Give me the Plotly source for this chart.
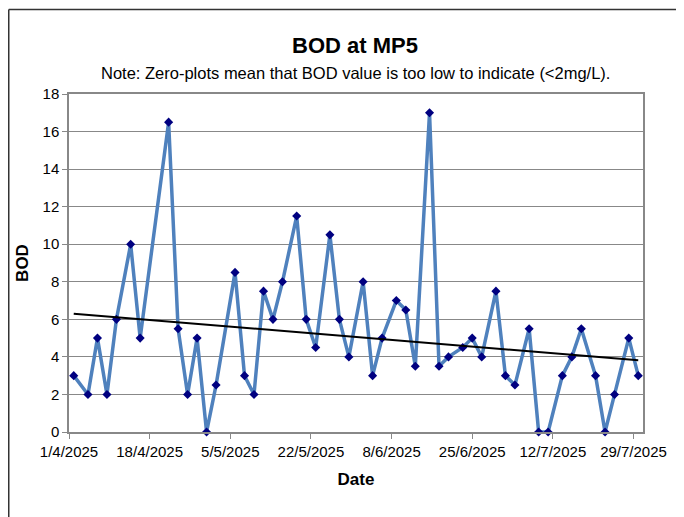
import numpy as np
import pandas as pd
import plotly.graph_objects as go

dates = ["2025-04-02", "2025-04-05", "2025-04-07", "2025-04-09", "2025-04-11", "2025-04-14",
         "2025-04-16", "2025-04-22", "2025-04-24", "2025-04-26", "2025-04-28", "2025-04-30",
         "2025-05-02", "2025-05-06", "2025-05-08", "2025-05-10", "2025-05-12", "2025-05-14",
         "2025-05-16", "2025-05-19", "2025-05-21", "2025-05-23", "2025-05-26", "2025-05-28",
         "2025-05-30", "2025-06-02", "2025-06-04", "2025-06-06", "2025-06-09", "2025-06-11",
         "2025-06-13", "2025-06-16", "2025-06-18", "2025-06-20", "2025-06-23", "2025-06-25",
         "2025-06-27", "2025-06-30", "2025-07-02", "2025-07-04", "2025-07-07", "2025-07-09",
         "2025-07-11", "2025-07-14", "2025-07-16", "2025-07-18", "2025-07-21", "2025-07-23",
         "2025-07-25", "2025-07-28", "2025-07-30"]
bod = [3, 2, 5, 2, 6, 10,
       5, 16.5, 5.5, 2, 5, 0,
       2.5, 8.5, 3, 2, 7.5, 6,
       8, 11.5, 6, 4.5, 10.5, 6,
       4, 8, 3, 5, 7, 6.5,
       3.5, 17, 3.5, 4, 4.5, 5,
       4, 7.5, 3, 2.5, 5.5, 0,
       0, 3, 4, 5.5, 3, 0,
       2, 5, 3]

tick_dates = ["2025-04-01", "2025-04-18", "2025-05-05", "2025-05-22",
              "2025-06-08", "2025-06-25", "2025-07-12", "2025-07-29"]
tick_labels = ["1/4/2025", "18/4/2025", "5/5/2025", "22/5/2025",
               "8/6/2025", "25/6/2025", "12/7/2025", "29/7/2025"]

# linear trendline (least squares over the data)
dt = pd.to_datetime(dates)
days = np.array([(d - dt[0]).days for d in dt], dtype=float)
slope, intercept = np.polyfit(days, np.array(bod, dtype=float), 1)
trend_x = [dates[0], dates[-1]]
trend_y = [intercept, intercept + slope * days[-1]]

font_family = "Liberation Sans, Arial, sans-serif"

fig = go.Figure()
fig.add_trace(go.Scatter(
    x=dates, y=bod, mode="lines+markers",
    line=dict(color="#4F81BD", width=3.5),
    marker=dict(symbol="diamond", size=7, color="#000080"),
    showlegend=False, cliponaxis=False,
))
fig.add_trace(go.Scatter(
    x=trend_x, y=trend_y, mode="lines",
    line=dict(color="black", width=2),
    showlegend=False,
))

# page has an 8px body margin; figure sized to fill the remaining window
OFF = 8
W, H = 684 - OFF, 517 - OFF
L = 69 - OFF
T = 94 - OFF
R = 684 - 643
B = 517 - 432
pw, ph = W - L - R, H - T - B

def px_x(p):
    return (p - OFF - L) / pw

def px_y(p):
    return (H - B - (p - OFF)) / ph

fig.update_layout(
    width=W, height=H,
    margin=dict(l=L, r=R, t=T, b=B),
    paper_bgcolor="white", plot_bgcolor="white",
    font=dict(family=font_family, size=15, color="black"),
    xaxis=dict(
        type="date", range=["2025-04-01", "2025-07-31"],
        tickvals=tick_dates, ticktext=tick_labels,
        ticks="outside", ticklen=5, tickcolor="#888888",
        showgrid=False, showline=True, linecolor="#888888", linewidth=1.5,
        mirror=True, zeroline=False,
        title=dict(text="<b>Date</b>", font=dict(size=17), standoff=14),
        tickfont=dict(size=15),
    ),
    yaxis=dict(
        range=[0, 18], tickvals=list(range(0, 19, 2)),
        ticks="outside", ticklen=5, tickcolor="#888888",
        showgrid=True, gridcolor="#888888", gridwidth=1.2,
        showline=True, linecolor="#888888", linewidth=1.5,
        mirror=True, zeroline=False,
        title=dict(text="<b>BOD</b>", font=dict(size=17), standoff=10),
        tickfont=dict(size=15),
    ),
    annotations=[
        dict(text="<b>BOD at MP5</b>", xref="paper", yref="paper",
             x=px_x(355), y=px_y(45), xanchor="center", yanchor="middle",
             showarrow=False, font=dict(size=22, color="black")),
        dict(text="Note: Zero-plots mean that BOD value is too low to indicate (<2mg/L).",
             xref="paper", yref="paper",
             x=px_x(355), y=px_y(73), xanchor="center", yanchor="middle",
             showarrow=False, font=dict(size=16.5, color="black")),
    ],
    shapes=[
        dict(type="line", xref="paper", yref="paper",
             x0=px_x(OFF + 0.75), x1=px_x(684), y0=px_y(9.5), y1=px_y(9.5),
             line=dict(color="#333333", width=1.5)),
        dict(type="line", xref="paper", yref="paper",
             x0=px_x(OFF + 0.75), x1=px_x(OFF + 0.75), y0=px_y(9.5), y1=px_y(517),
             line=dict(color="#333333", width=1.5)),
    ],
)

fig.write_html("out.html")
